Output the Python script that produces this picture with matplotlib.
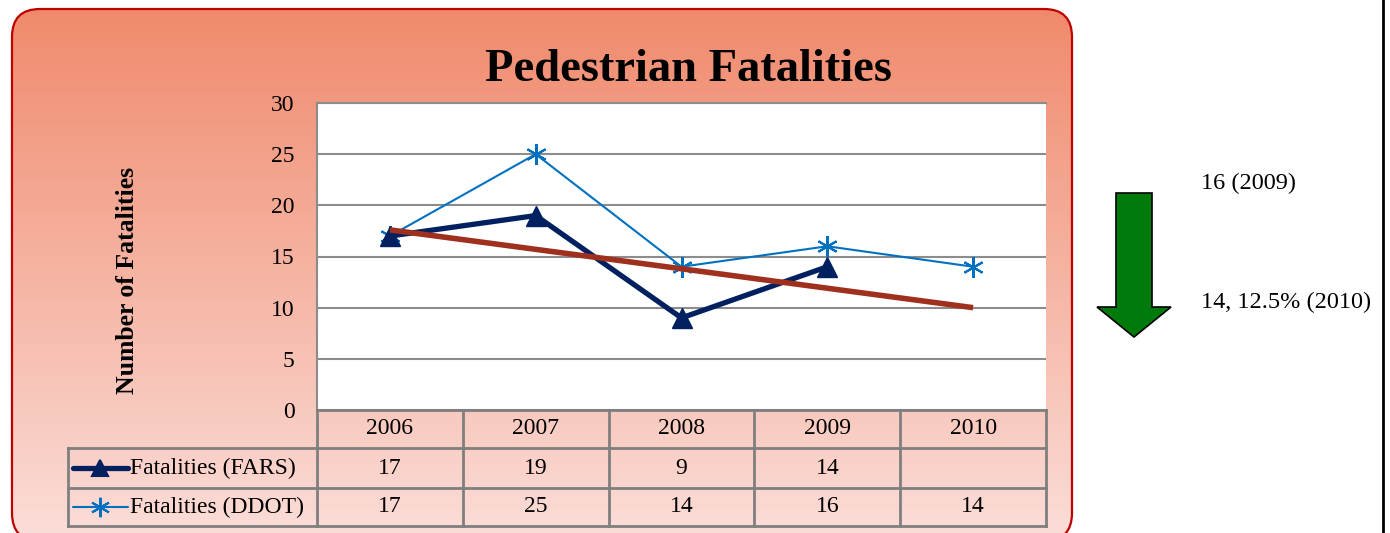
"""Pedestrian fatalities line chart with data table, trend line and side note."""

import matplotlib
matplotlib.use("Agg")
import matplotlib.pyplot as plt
import numpy as np
from matplotlib.patches import FancyBboxPatch, FancyArrow
from matplotlib.transforms import blended_transform_factory

years = ["2006", "2007", "2008", "2009", "2010"]
fars = [17, 19, 9, 14, None]
ddot = [17, 25, 14, 16, 14]
trend_x = [0, 4]
trend_y = [17.6, 10.0]
yticks = [0, 5, 10, 15, 20, 25, 30]
note_top = "16 (2009)"
note_bottom = "14, 12.5% (2010)"

W, H = 1390, 533
FONT = "Liberation Serif"
NAVY = "#002060"
BLUE = "#0070C0"
TREND = "#A0301E"
GRID = "#8C8C8C"
FS = 17

fig = plt.figure(figsize=(W / 100, H / 100), dpi=100)

# overlay in pixel coordinates for the panel and side note
bg = fig.add_axes([0, 0, 1, 1], zorder=0)
bg.set_xlim(0, W)
bg.set_ylim(0, H)
bg.axis("off")


def py(v):
    # pixel row (from top) -> overlay y
    return H - v


panel = FancyBboxPatch((12, py(541)), 1060, 532, boxstyle="round,pad=0,rounding_size=28",
                       facecolor="none", edgecolor="#C00000", linewidth=1.6, zorder=3)
panel.set_clip_on(False)
bg.add_patch(panel)
top_rgb = np.array([240, 138, 108]) / 255
bot_rgb = np.array([251, 222, 217]) / 255
t = np.linspace(0, 1, 256)[:, None]
grad = (top_rgb[None, :] * (1 - t) + bot_rgb[None, :] * t)[:, None, :]
im = bg.imshow(grad, extent=(12, 1072, py(541), py(9)), aspect="auto", zorder=1,
               interpolation="bilinear", origin="upper")
im.set_clip_path(panel)

bg.plot([1383, 1383], [0, H], color="black", linewidth=2)

arrow = FancyArrow(1134, py(193), 0, -144, width=36, head_width=74, head_length=30,
                   length_includes_head=True, facecolor="#007A0A", edgecolor="black", linewidth=1.2)
bg.add_patch(arrow)
bg.text(1201, py(183), note_top, fontsize=17.5, family=FONT, va="center", ha="left")
bg.text(1201, py(302), note_bottom, fontsize=17.5, family=FONT, va="center", ha="left")

bg.text(688, py(70), "Pedestrian Fatalities", fontsize=33.5, fontweight="bold", family=FONT,
        ha="center", va="center")
bg.text(128, py(280), "Number of Fatalities", fontsize=18.5, fontweight="bold", family=FONT,
        ha="center", va="center", rotation=90)

# plot area
x0, x1, y0, y1 = 317, 1046, 103, 410
ax = fig.add_axes([x0 / W, 1 - y1 / H, (x1 - x0) / W, (y1 - y0) / H], zorder=1)
ax.set_facecolor("white")
ax.set_xlim(-0.5, len(years) - 0.5)
ax.set_ylim(0, 30)
ax.set_yticks(yticks)
ax.set_yticklabels([str(v) for v in yticks], family=FONT, fontsize=FS)
ax.tick_params(axis="y", length=0, pad=16)
ax.set_xticks([])
for s in ["right", "bottom"]:
    ax.spines[s].set_visible(False)
for s in ["left", "top"]:
    ax.spines[s].set_color(GRID)
    ax.spines[s].set_linewidth(1.5)
ax.yaxis.grid(True, color=GRID, linewidth=1.5)
ax.set_axisbelow(True)

xs = np.arange(len(years))
fx = [i for i, v in enumerate(fars) if v is not None]
fy = [v for v in fars if v is not None]
ax.plot(fx, fy, color=NAVY, linewidth=3.8, marker="^", markersize=14, zorder=3)
ax.plot(xs, ddot, color=BLUE, linewidth=1.5, marker=(6, 2, 0), markersize=15,
        markeredgewidth=1.5, zorder=2)
ax.plot(trend_x, trend_y, color=TREND, linewidth=4, zorder=4, solid_capstyle="butt")

# data table below the axis
tr = blended_transform_factory(ax.transData, ax.transAxes)
ph = y1 - y0
rows = [0, -(448 - y1) / ph, -(488 - y1) / ph, -(526 - y1) / ph]
left = -0.5 - (x0 - 68) / (x1 - x0) * len(years)
lkw = dict(color="#7F7F7F", linewidth=2, transform=tr, clip_on=False, zorder=5)
for r in rows:
    ax.plot([left if r < rows[0] else -0.5, len(years) - 0.5], [r, r], **lkw)
for i in range(len(years) + 1):
    ax.plot([i - 0.5, i - 0.5], [rows[0], rows[-1]], **lkw)
ax.plot([left, left], [rows[1], rows[-1]], **lkw)

tkw = dict(transform=tr, family=FONT, fontsize=FS, ha="center", va="center", clip_on=False)
for i, yr in enumerate(years):
    ax.text(i, (rows[0] + rows[1]) / 2, yr, **tkw)
    if fars[i] is not None:
        ax.text(i, (rows[1] + rows[2]) / 2, str(fars[i]), **tkw)
    ax.text(i, (rows[2] + rows[3]) / 2, str(ddot[i]), **tkw)

unit = len(years) / (x1 - x0)
kx0, kx1, km, lx = left + 5 * unit, left + 60 * unit, left + 32 * unit, left + 62 * unit
for (r_top, r_bot), label, col, lw, mk, ms in [
    ((rows[1], rows[2]), "Fatalities (FARS)", NAVY, 3.8, "^", 12),
    ((rows[2], rows[3]), "Fatalities (DDOT)", BLUE, 1.5, (6, 2, 0), 14),
]:
    ym = (r_top + r_bot) / 2
    ax.plot([kx0, kx1], [ym, ym], color=col, linewidth=lw, transform=tr, clip_on=False,
            solid_capstyle="round")
    ax.plot([km], [ym], marker=mk, markersize=ms, color=col, markeredgewidth=1.5,
            transform=tr, clip_on=False)
    ax.text(lx, ym, label, transform=tr, family=FONT, fontsize=FS, ha="left", va="center",
            clip_on=False)

fig.savefig("out.png", dpi=100)
